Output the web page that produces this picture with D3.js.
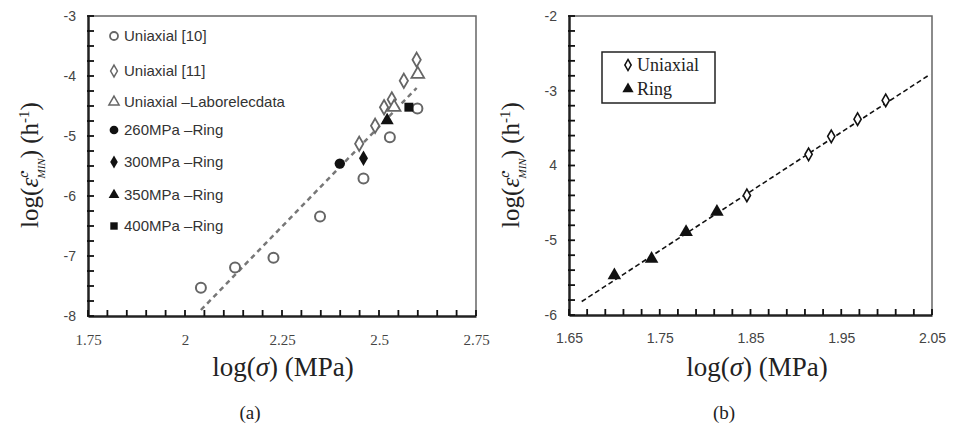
<!DOCTYPE html>
<html>
<head>
<meta charset="utf-8">
<script src="https://d3js.org/d3.v7.min.js"></script>
<style>
body { margin: 0; background: #fff; }
svg { display: block; }
.tick text { font-family: "Liberation Sans", Arial, sans-serif; font-size: 14px; fill: #444; }
.serifx .tick text { font-family: "Liberation Serif", "DejaVu Serif", serif; font-size: 15px; fill: #444; }
.title { font-family: "Liberation Serif", "DejaVu Serif", serif; fill: #222; }
.leg { font-family: "Liberation Sans", Arial, sans-serif; font-size: 15px; fill: #333; }
</style>
</head>
<body>
<script>
// ---- panel (a) data ----
const uni10X = [2.041, 2.129, 2.228, 2.348, 2.46, 2.528, 2.599];
const uni10Y = [-7.53, -7.19, -7.03, -6.34, -5.71, -5.02, -4.54];
const uni11X = [2.449, 2.49, 2.513, 2.533, 2.564, 2.597];
const uni11Y = [-5.13, -4.83, -4.52, -4.39, -4.08, -3.73];
const laborX = [2.539, 2.6];
const laborY = [-4.52, -3.97];
const ring260 = [[2.399, -5.46]];
const ring300 = [[2.46, -5.37]];
const ring350 = [[2.521, -4.74]];
const ring400 = [[2.577, -4.52]];
const fitA = [[2.041, -7.9], [2.597, -4.2]];
const xTicksA = [1.75, 2, 2.25, 2.5, 2.75];
const yTicksA = [-3, -4, -5, -6, -7, -8];
const xMinorA = d3.range(35, 56).map(d => d / 20);
const yMinorA = d3.range(-32, -11).map(d => d / 4);
const legendA = ["Uniaxial [10]", "Uniaxial [11]", "Uniaxial \u2013Laborelecdata",
  "260MPa \u2013Ring", "300MPa \u2013Ring", "350MPa \u2013Ring", "400MPa \u2013Ring"];

// ---- panel (b) data ----
const ringBX = [1.70, 1.741, 1.779, 1.813];
const ringBY = [-5.47, -5.25, -4.89, -4.62];
const uniBX = [1.846, 1.914, 1.939, 1.968, 1.999];
const uniBY = [-4.40, -3.85, -3.61, -3.38, -3.13];
const fitB = [[1.664, -5.82], [2.048, -2.78]];
const xTicksB = [1.65, 1.75, 1.85, 1.95, 2.05];
const yTicksB = [-2, -3, -4, -5, -6];
const yLabelsB = ["-2", "-3", "4", "-5", "-6"];
const xMinorB = d3.range(165, 206, 2).map(d => d / 100);
const yMinorB = d3.range(-30, -9).map(d => d / 5);

const width = 954, height = 430;
const svg = d3.select("body").append("svg").attr("width", width).attr("height", height);

function drawPanel(g, x, y, xt, yt, xMinor, yMinor, xFmt, yFmt, serifX) {
  const xr = x.range(), yr = y.range();
  const left = xr[0], right = xr[1], bottom = yr[0], top = yr[1];
  // light top/right border
  g.append("path").attr("d", `M${left},${top}H${right}V${bottom}`)
    .attr("fill", "none").attr("stroke", "#666").attr("stroke-width", 1.5);
  // major axes
  const xa = g.append("g").attr("transform", `translate(0,${bottom})`)
    .call(d3.axisBottom(x).tickValues(xt).tickSize(0).tickPadding(18).tickFormat(xFmt));
  xa.select(".domain").attr("stroke", "#222").attr("stroke-width", 2.5);
  if (serifX) xa.classed("serifx", true);
  const ya = g.append("g").attr("transform", `translate(${left},0)`)
    .call(d3.axisLeft(y).tickValues(yt).tickSize(0).tickPadding(12).tickFormat(yFmt));
  ya.select(".domain").attr("stroke", "#222").attr("stroke-width", 2.5);
  // small inward ticks
  g.append("g").selectAll("line").data(xMinor).join("line")
    .attr("x1", d => x(d)).attr("x2", d => x(d)).attr("y1", bottom).attr("y2", bottom - 6)
    .attr("stroke", "#111").attr("stroke-width", 1.8);
  g.append("g").selectAll("line").data(yMinor).join("line")
    .attr("y1", d => y(d)).attr("y2", d => y(d)).attr("x1", left - 1).attr("x2", left + 6)
    .attr("stroke", "#111").attr("stroke-width", 1.8);
}

function yTitle(g, cx, cy) {
  const t = g.append("text").attr("class", "title")
    .attr("transform", `translate(${cx},${cy}) rotate(-90)`)
    .attr("text-anchor", "middle").attr("font-size", 25);
  t.append("tspan").text("log(");
  t.append("tspan").attr("font-style", "italic").text("\u03b5\u0307");
  t.append("tspan").attr("font-style", "italic").attr("font-size", 14).attr("dy", -10).text("c");
  t.append("tspan").attr("font-style", "italic").attr("font-size", 11).attr("dx", -7).attr("dy", 17).text("MIN");
  t.append("tspan").attr("dy", -7).text(") (h");
  t.append("tspan").attr("font-size", 15).attr("dy", -9).text("-1");
  t.append("tspan").attr("dy", 9).text(")");
}

function xTitle(g, cx, cy, lab, ly) {
  const t = g.append("text").attr("class", "title").attr("x", cx).attr("y", cy)
    .attr("text-anchor", "middle").attr("font-size", 27);
  t.append("tspan").text("log(");
  t.append("tspan").attr("font-style", "italic").text("\u03c3");
  t.append("tspan").text(") (MPa)");
  g.append("text").attr("class", "title").attr("x", cx - 33).attr("y", ly)
    .attr("text-anchor", "middle").attr("font-size", 19).text(lab);
}

function diamond(s) { return d3.symbol(d3.symbolDiamond, s)(); }

// ================= panel (a) =================
const gA = svg.append("g");
const xA = d3.scaleLinear().domain([1.75, 2.75]).range([88, 476]);
const yA = d3.scaleLinear().domain([-8, -3]).range([316, 16]);
drawPanel(gA, xA, yA, xTicksA, yTicksA, xMinorA, yMinorA,
  d => d3.format("")(d), d => d, true);

const grey = "#666";
gA.append("path").datum(fitA)
  .attr("d", d3.line().x(d => xA(d[0])).y(d => yA(d[1])))
  .attr("fill", "none").attr("stroke", "#777").attr("stroke-width", 2.5).attr("stroke-dasharray", "5,4");

gA.append("g").selectAll("circle").data(d3.zip(uni10X, uni10Y)).join("circle")
  .attr("cx", d => xA(d[0])).attr("cy", d => yA(d[1])).attr("r", 5)
  .attr("fill", "#fff").attr("stroke", grey).attr("stroke-width", 2);
gA.append("g").selectAll("path").data(d3.zip(uni11X, uni11Y)).join("path")
  .attr("transform", d => `translate(${xA(d[0])},${yA(d[1])})`)
  .attr("d", diamond(60)).attr("fill", "#fff").attr("stroke", grey).attr("stroke-width", 1.8);
gA.append("g").selectAll("path").data(d3.zip(laborX, laborY)).join("path")
  .attr("transform", d => `translate(${xA(d[0])},${yA(d[1])})`)
  .attr("d", d3.symbol(d3.symbolTriangle, 70)()).attr("fill", "#fff").attr("stroke", grey).attr("stroke-width", 1.8);
const filled = [[ring260, d3.symbolCircle, 85], [ring300, d3.symbolDiamond, 70],
  [ring350, d3.symbolTriangle, 75], [ring400, d3.symbolSquare, 80]];
filled.forEach(([pts, sym, sz]) => {
  gA.append("g").selectAll("path").data(pts).join("path")
    .attr("transform", d => `translate(${xA(d[0])},${yA(d[1])})`)
    .attr("d", d3.symbol(sym, sz)()).attr("fill", "#111");
});

// legend (a)
const legY = [36, 71, 102, 130, 162, 195, 226];
const legSym = [
  g => g.append("circle").attr("r", 4).attr("fill", "#fff").attr("stroke", grey).attr("stroke-width", 1.8),
  g => g.append("path").attr("d", diamond(40)).attr("fill", "#fff").attr("stroke", grey).attr("stroke-width", 1.5),
  g => g.append("path").attr("d", d3.symbol(d3.symbolTriangle, 45)()).attr("fill", "#fff").attr("stroke", grey).attr("stroke-width", 1.5),
  g => g.append("path").attr("d", d3.symbol(d3.symbolCircle, 60)()).attr("fill", "#111"),
  g => g.append("path").attr("d", d3.symbol(d3.symbolDiamond, 50)()).attr("fill", "#111"),
  g => g.append("path").attr("d", d3.symbol(d3.symbolTriangle, 50)()).attr("fill", "#111"),
  g => g.append("path").attr("d", d3.symbol(d3.symbolSquare, 55)()).attr("fill", "#111")
];
legendA.forEach((t, i) => {
  const row = gA.append("g").attr("transform", `translate(114,${legY[i]})`);
  legSym[i](row);
  row.append("text").attr("class", "leg").attr("x", 10).attr("y", 5).text(t);
});

yTitle(gA, 38, 165);
xTitle(gA, 283, 376, "(a)", 419);

// ================= panel (b) =================
const gB = svg.append("g");
const xB = d3.scaleLinear().domain([1.65, 2.05]).range([569, 932]);
const yB = d3.scaleLinear().domain([-6, -2]).range([315, 16]);
drawPanel(gB, xB, yB, xTicksB, yTicksB, xMinorB, yMinorB,
  d3.format(".2f"), (d, i) => yLabelsB[i], false);

gB.append("path").datum(fitB)
  .attr("d", d3.line().x(d => xB(d[0])).y(d => yB(d[1])))
  .attr("fill", "none").attr("stroke", "#111").attr("stroke-width", 1.6).attr("stroke-dasharray", "5,3");

gB.append("g").selectAll("path").data(d3.zip(uniBX, uniBY)).join("path")
  .attr("transform", d => `translate(${xB(d[0])},${yB(d[1])})`)
  .attr("d", diamond(45)).attr("fill", "#fff").attr("stroke", "#111").attr("stroke-width", 1.6);
gB.append("g").selectAll("path").data(d3.zip(ringBX, ringBY)).join("path")
  .attr("transform", d => `translate(${xB(d[0])},${yB(d[1])})`)
  .attr("d", d3.symbol(d3.symbolTriangle, 80)()).attr("fill", "#111");

// legend (b)
gB.append("rect").attr("x", 602).attr("y", 52).attr("width", 113).attr("height", 51)
  .attr("fill", "#fff").attr("stroke", "#222").attr("stroke-width", 1.5);
const lb = [["Uniaxial", 65], ["Ring", 89]];
lb.forEach(([t, y], i) => {
  const row = gB.append("g").attr("transform", `translate(628,${y})`);
  if (i === 0) row.append("path").attr("d", diamond(35)).attr("fill", "#fff").attr("stroke", "#111").attr("stroke-width", 1.5);
  else row.append("path").attr("d", d3.symbol(d3.symbolTriangle, 55)()).attr("fill", "#111");
  row.append("text").attr("class", "title").attr("x", 9).attr("y", 6).attr("font-size", 18).text(t);
});

yTitle(gB, 519, 165);
xTitle(gB, 757, 376, "(b)", 419);
</script>
</body>
</html>
